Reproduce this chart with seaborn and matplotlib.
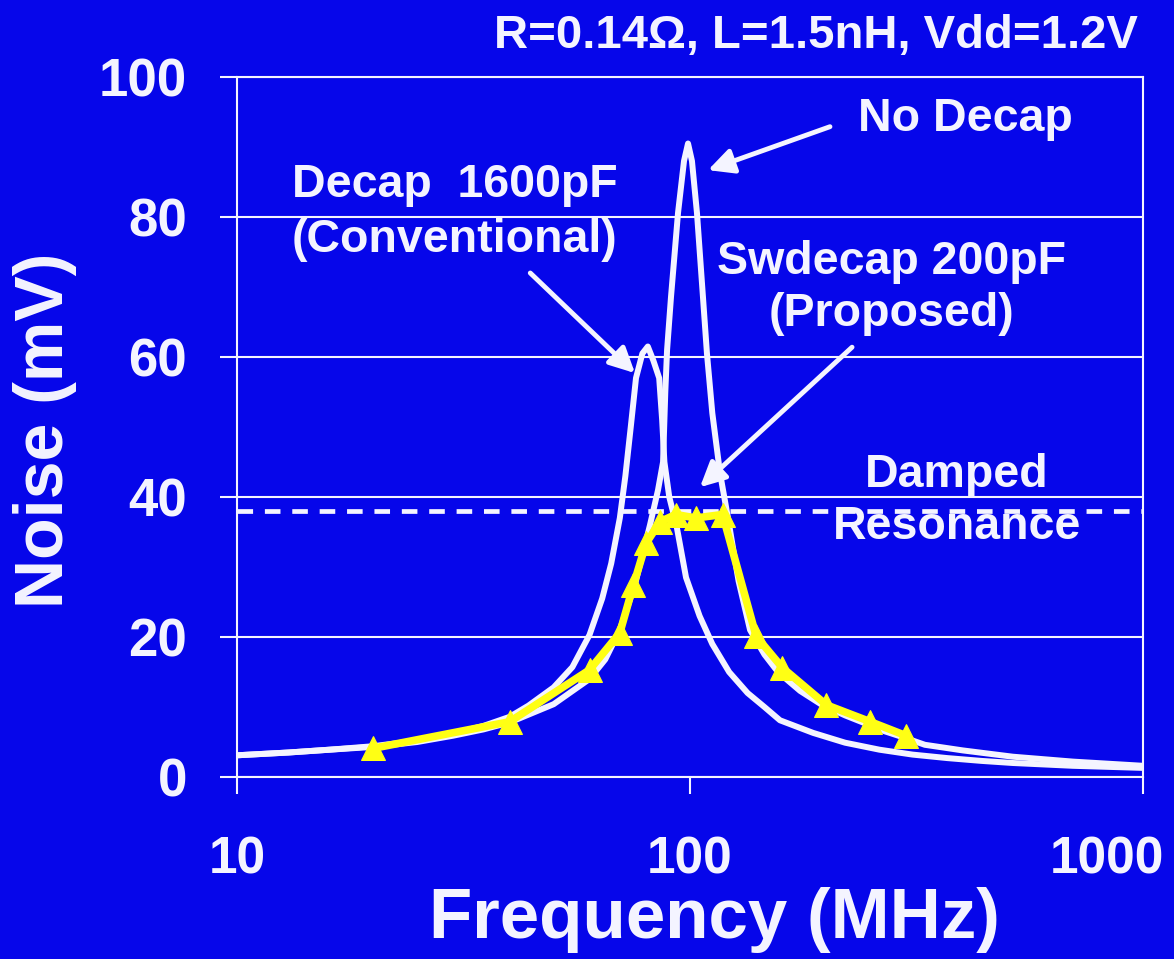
import matplotlib
matplotlib.use("Agg")
import matplotlib.pyplot as plt
from matplotlib.ticker import NullLocator
from matplotlib.transforms import ScaledTranslation
import pandas as pd
import seaborn as sns

# ---------------- data ----------------
freq_decap = [10, 13, 16, 20, 25, 30, 35, 40, 44, 50, 55, 60, 64, 67, 70, 72, 74, 76,
              78.5, 80.7, 83, 85.5, 86.8, 87.8, 90, 93.5, 98, 105, 112, 122, 134, 146,
              158, 187, 220, 262, 310, 370, 440, 516, 700, 1000]
noise_decap = [3.1, 3.5, 3.9, 4.4, 5.2, 6.2, 7.3, 8.6, 10.2, 12.8, 15.7, 20.3, 25.5, 30.5,
               37, 43, 50, 57, 60.5, 61.5, 59.5, 57, 51, 45, 40, 35.7, 28.5, 23, 19, 15,
               12, 10, 8.1, 6.3, 4.9, 3.9, 3.2, 2.7, 2.3, 2.0, 1.6, 1.3]

freq_nodecap = [10, 13, 16, 20, 25, 30, 35, 40, 50, 60, 65, 70, 75.6, 81.6, 85, 87.2, 88.2,
                89, 90.8, 94.1, 97, 99, 101, 103.6, 106.8, 109, 112, 116.5, 121.3, 128,
                135.7, 146, 156.4, 175, 195.6, 220, 245, 270, 298, 330, 400, 516, 700, 1000]
noise_nodecap = [3.1, 3.5, 3.9, 4.3, 5.0, 5.9, 6.8, 7.8, 10.4, 14.0, 16.8, 21, 27.5, 36, 41,
                 45, 55, 61, 68.6, 80.6, 88, 90.5, 88, 80.6, 68.6, 60.5, 52, 43.4, 37, 28,
                 21, 17.5, 15, 12.3, 10.3, 8.8, 7.6, 6.5, 5.6, 4.6, 3.8, 2.9, 2.2, 1.6]

freq_swdecap = [20, 40, 60, 70, 75, 80, 86, 93, 103, 118, 140, 160, 200, 250, 300]
noise_swdecap = [4.1, 7.9, 15.3, 20.6, 27.4, 33.4, 36.5, 37.5, 37.0, 37.5, 20.1, 15.6,
                 10.3, 7.9, 5.9]

damped_level = 38

x_ticks = [10, 100, 1000]
x_tick_labels = ["10", "100", "1000"]
y_ticks = [0, 20, 40, 60, 80, 100]
y_tick_labels = ["0", "20", "40", "60", "80", "100"]

title_text = "R=0.14\u03a9, L=1.5nH, Vdd=1.2V"
x_label = "Frequency (MHz)"
y_label = "Noise (mV)"

# ---------------- style ----------------
BLUE = "#0606EA"
YELLOW = "#FFFF14"
WHITE = "#F4F4FF"

sns.set_style("white")
plt.rcParams["font.family"] = ["Liberation Sans", "DejaVu Sans"]
plt.rcParams["font.weight"] = "bold"

W, H = 1174, 959
fig = plt.figure(figsize=(W / 100, H / 100), dpi=100, facecolor=BLUE)
ax = fig.add_axes([237 / W, 1 - 777 / H, 906 / W, 700 / H])
ax.set_facecolor(BLUE)

df_decap = pd.DataFrame({"f": freq_decap, "v": noise_decap})
df_nodecap = pd.DataFrame({"f": freq_nodecap, "v": noise_nodecap})
df_sw = pd.DataFrame({"f": freq_swdecap, "v": noise_swdecap})

sns.lineplot(data=df_decap, x="f", y="v", ax=ax, color=WHITE, lw=4.3,
             estimator=None, sort=False, zorder=3, solid_joinstyle="round")
sns.lineplot(data=df_nodecap, x="f", y="v", ax=ax, color=WHITE, lw=4.3,
             estimator=None, sort=False, zorder=3, solid_joinstyle="round")
ax.axhline(damped_level, color=WHITE, lw=3.4, ls=(0, (3.3, 2.5)), zorder=2.5)
sns.lineplot(data=df_sw, x="f", y="v", ax=ax, color=YELLOW, lw=5.5,
             estimator=None, sort=False, zorder=4, marker="^", markersize=17,
             markeredgecolor=YELLOW, markerfacecolor=YELLOW)

ax.set_xscale("log")
ax.set_xlim(10, 1000)
ax.set_ylim(0, 100)
ax.set_xticks(x_ticks)
ax.set_xticklabels(x_tick_labels)
ax.xaxis.set_minor_locator(NullLocator())
ax.set_yticks(y_ticks)
ax.set_yticklabels(y_tick_labels)

ax.set_axisbelow(True)
ax.grid(axis="y", color=WHITE, lw=1.5)
ax.grid(axis="x", visible=False)
for s in ax.spines.values():
    s.set_color(WHITE)
    s.set_linewidth(1.5)

ax.tick_params(axis="y", direction="out", length=12, width=1.5, color=WHITE,
               labelcolor=WHITE, labelsize=38, pad=24, left=True)
ax.tick_params(axis="x", direction="out", length=12, width=1.5, color=WHITE,
               labelcolor=WHITE, labelsize=37, pad=30, bottom=True)
for lab in ax.get_xticklabels() + ax.get_yticklabels():
    lab.set_fontweight("bold")
# the last x label sits a little inside the right edge, as in the reference
last = ax.get_xticklabels()[-1]
last.set_transform(last.get_transform() + ScaledTranslation(-0.36, 0, fig.dpi_scale_trans))

ax.set_xlabel(x_label, color=WHITE, fontsize=51, fontweight="bold")
ax.set_ylabel(y_label, color=WHITE, fontsize=49, fontweight="bold")
ax.xaxis.label.set_va("center")
ax.yaxis.label.set_va("center")
ax.xaxis.set_label_coords((714 - 237) / 906, (777 - 920) / 700)
ax.yaxis.set_label_coords((45 - 237) / 906, (777 - 430) / 700)

fig.text(1138 / W, 1 - 36 / H, title_text, color=WHITE, fontsize=34,
         fontweight="bold", ha="right", va="center")

txt = dict(color=WHITE, fontsize=33.5, fontweight="bold", va="center", zorder=5)
ax.text(406, 94.0, "No Decap", ha="center", **txt)
ax.text(13.2, 84.6, "Decap  1600pF", ha="left", **txt)
ax.text(13.2, 76.7, "(Conventional)", ha="left", **txt)
ax.text(279, 73.6, "Swdecap 200pF", ha="center", **txt)
ax.text(279, 66.2, "(Proposed)", ha="center", **txt)
ax.text(388, 43.1, "Damped", ha="center", **txt)
ax.text(388, 35.7, "Resonance", ha="center", **txt)

arrow = dict(arrowstyle="-|>", color=WHITE, lw=3.5, mutation_scale=38,
             shrinkA=0, shrinkB=0)
ax.annotate("", xy=(109.6, 86.7), xytext=(203.7, 92.9), arrowprops=arrow, zorder=5)
ax.annotate("", xy=(75.6, 57.7), xytext=(44.4, 72.0), arrowprops=arrow, zorder=5)
ax.annotate("", xy=(105.2, 41.4), xytext=(227.9, 61.4), arrowprops=arrow, zorder=5)

fig.savefig("out.png", dpi=100, facecolor=BLUE)
